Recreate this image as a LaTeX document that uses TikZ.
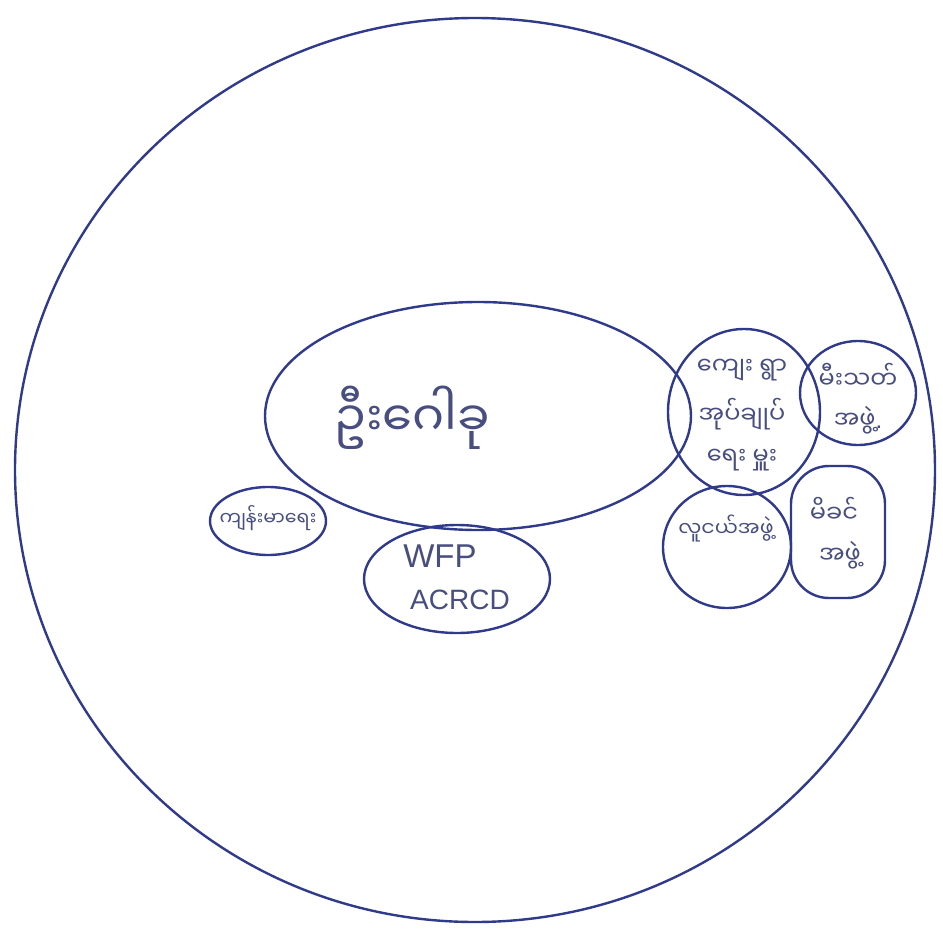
\documentclass[tikz,border=0pt]{standalone}
\usepackage{fontspec}
\setmainfont{Liberation Sans}
\newfontfamily\mya[Script=Myanmar]{Noto Sans Myanmar UI}
\usetikzlibrary{shapes.geometric}
\definecolor{ink}{RGB}{48,58,138}
\definecolor{txt}{RGB}{72,78,128}
\begin{document}
\begin{tikzpicture}[x=1pt,y=-1pt,
  blob/.style={draw=ink, line width=2.4pt, ellipse, inner sep=0pt},
  rblob/.style={draw=ink, line width=2.4pt, rectangle, rounded corners=38pt, inner sep=0pt},
  lbl/.style={text=txt, inner sep=0pt, align=center},
  my/.style={lbl, font=\mya\fontsize{24}{28}\selectfont},
  lat/.style={lbl, font=\fontsize{33}{36}\selectfont}]
\useasboundingbox[fill=white] (0,0) rectangle (943,940);
% outer circle
\node[blob, minimum width=920, minimum height=904] (outer) at (475,470) {};
% main oval
\node[blob, minimum width=426, minimum height=228] (main) at (478,416) {};
\node[lbl, font=\mya\fontsize{48}{54}\selectfont] (tmain) at (412,418) {ဦးဂေါခု};
% village administrator
\node[blob, minimum width=152, minimum height=166] (admin) at (744,412) {};
\node[my] (ta1) at (742,370) {ကျေး ရွာ};
\node[my] (ta2) at (742,414) {အုပ်ချုပ်};
\node[my] (ta3) at (742,460) {ရေး မှူး};
% fire brigade
\node[blob, minimum width=116, minimum height=104] (fire) at (858,393) {};
\node[my] (tf1) at (858,376) {မီးသတ်};
\node[my] (tf2) at (858,420) {အဖွဲ့{\rmfamily .}};
% youth
\node[blob, minimum width=128, minimum height=122] (youth) at (727,547) {};
\node[my, font=\mya\fontsize{20.5}{24}\selectfont] (ty) at (726,528) {လူငယ်အဖွဲ့};
% mothers
\node[rblob, minimum width=94, minimum height=132] (moth) at (838,532) {};
\node[my] (tm1) at (834,510) {မိခင်};
\node[my] (tm2) at (840,555) {အဖွဲ့};
% health
\node[blob, minimum width=116, minimum height=68] (health) at (268,521) {};
\node[my, font=\mya\fontsize{19}{22}\selectfont] (th) at (268,518) {ကျန်းမာရေး};
% WFP / ACRCD
\node[blob, minimum width=186, minimum height=108] (wfp) at (457,579) {};
\node[lat] (tw1) at (440,556) {WFP};
\node[lat, font=\fontsize{28}{31}\selectfont] (tw2) at (460,600) {ACRCD};
\end{tikzpicture}
\end{document}
